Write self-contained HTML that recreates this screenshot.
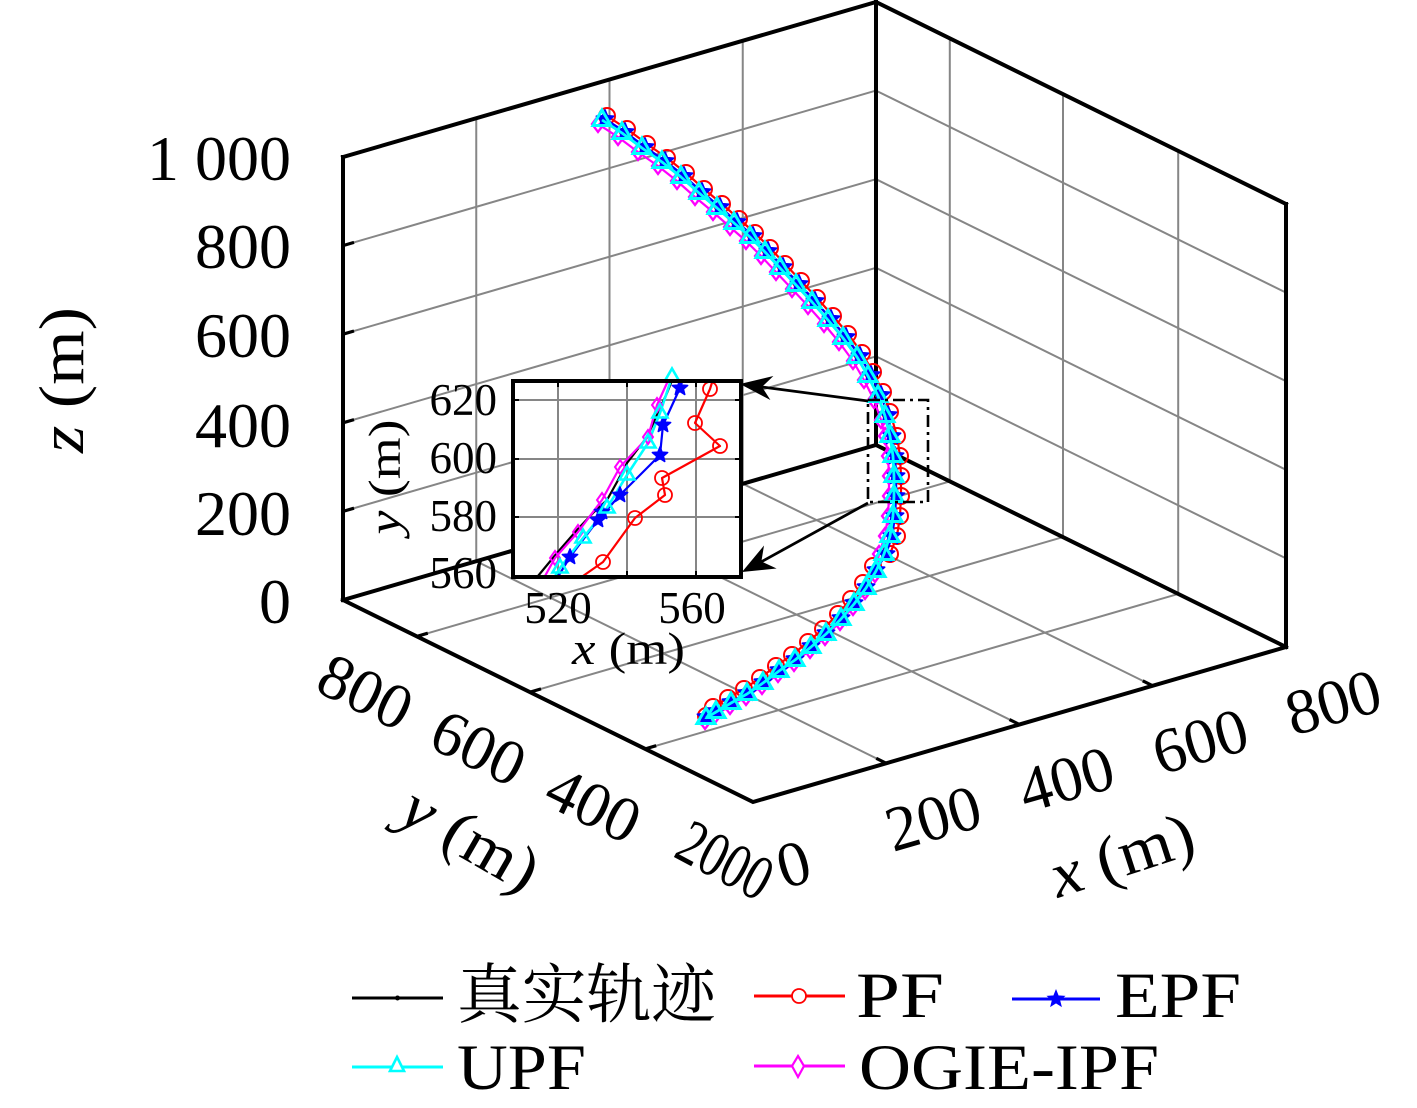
<!DOCTYPE html>
<html><head><meta charset="utf-8"><style>html,body{margin:0;padding:0;background:#fff}svg{display:block}</style></head>
<body>
<svg width="1417" height="1108" viewBox="0 0 1417 1108" xmlns="http://www.w3.org/2000/svg" font-family="'Liberation Serif', serif">
<defs>
  <marker id="mdot" markerUnits="userSpaceOnUse" markerWidth="20" markerHeight="20" refX="10" refY="10" style="overflow:visible">
    <circle cx="10" cy="10" r="2.5" fill="#000"/>
  </marker>
  <marker id="mcir" markerUnits="userSpaceOnUse" markerWidth="20" markerHeight="20" refX="10" refY="10" style="overflow:visible">
    <circle cx="10" cy="10" r="8" fill="none" stroke="#ff0000" stroke-width="2"/>
  </marker>
  <marker id="mstar" markerUnits="userSpaceOnUse" markerWidth="20" markerHeight="20" refX="10" refY="10" style="overflow:visible">
    <polygon points="10,1 12.35,6.76 18.56,7.22 13.8,11.24 15.29,17.28 10,14 4.71,17.28 6.2,11.24 1.44,7.22 7.65,6.76" fill="#0000ff" stroke="#0000ff" stroke-width="1.8" stroke-linejoin="round"/>
  </marker>
  <marker id="mtri" markerUnits="userSpaceOnUse" markerWidth="20" markerHeight="20" refX="10" refY="10" style="overflow:visible">
    <polygon points="10,0 19,15.5 1,15.5" fill="none" stroke="#00ffff" stroke-width="3" stroke-linejoin="miter"/>
  </marker>
  <marker id="mdia" markerUnits="userSpaceOnUse" markerWidth="20" markerHeight="20" refX="10" refY="10" style="overflow:visible">
    <polygon points="10,2 16,10 10,18 4,10" fill="none" stroke="#ff00ff" stroke-width="2.3"/>
  </marker>
  <!-- inset markers -->
  <marker id="icir" markerUnits="userSpaceOnUse" markerWidth="20" markerHeight="20" refX="10" refY="10" style="overflow:visible">
    <circle cx="10" cy="10" r="7" fill="none" stroke="#ff0000" stroke-width="1.8"/>
  </marker>
  <marker id="istar" markerUnits="userSpaceOnUse" markerWidth="20" markerHeight="20" refX="10" refY="10" style="overflow:visible">
    <polygon points="10,2 12.06,7.17 17.61,7.53 13.33,11.08 14.7,16.47 10,13.5 5.3,16.47 6.67,11.08 2.39,7.53 7.94,7.17" fill="#0000ff" stroke="#0000ff" stroke-width="1.6" stroke-linejoin="round"/>
  </marker>
  <marker id="itri" markerUnits="userSpaceOnUse" markerWidth="20" markerHeight="20" refX="10" refY="10" style="overflow:visible">
    <polygon points="10,1.5 17.5,14.5 2.5,14.5" fill="none" stroke="#00ffff" stroke-width="2.6" stroke-linejoin="miter"/>
  </marker>
  <marker id="idia" markerUnits="userSpaceOnUse" markerWidth="20" markerHeight="20" refX="10" refY="10" style="overflow:visible">
    <polygon points="10,3 15,10 10,17 5,10" fill="none" stroke="#ff00ff" stroke-width="2"/>
  </marker>
  <clipPath id="ic"><rect x="513" y="381" width="228" height="196"/></clipPath>
</defs>

<rect x="0" y="0" width="1417" height="1108" fill="#fff"/>

<!-- gridlines -->
<g stroke="#868686" stroke-width="2" fill="none">
  <path d="M343 511.4L876 356.4 M343 422.8L876 267.8 M343 334.2L876 179.2 M343 245.6L876 90.6"/>
  <path d="M876 356.4L1286 558.4 M876 267.8L1286 469.8 M876 179.2L1286 381.2 M876 90.6L1286 292.6"/>
  <path d="M476.25 561.25L476.25 118.25 M609.5 522.5L609.5 79.5 M742.75 483.75L742.75 40.75"/>
  <path d="M949.8 481.4L949.8 38.4 M1063 537.1L1063 94.1 M1178.2 593.9L1178.2 150.9"/>
  <path d="M416.8 636.4L949.8 481.4 M530 692.1L1063 537.1 M645.2 748.9L1178.2 593.9"/>
  <path d="M886.25 763.25L476.25 561.25 M1019.5 724.5L609.5 522.5 M1152.75 685.75L742.75 483.75"/>
</g>

<!-- box edges -->
<g stroke="#000" stroke-width="4" fill="none" stroke-linejoin="miter" stroke-linecap="square">
  <path d="M343 157L343 600 M876 2L876 445 M1286 204L1286 647"/>
  <path d="M343 600L753 802L1286 647"/>
  <path d="M343 600L876 445L1286 647"/>
  <path d="M343 157L876 2L1286 204"/>
</g>
<!-- ticks -->
<g stroke="#000" stroke-width="3.2" fill="none">
  <path d="M343 511.4l11 -3.2 M343 422.8l11 -3.2 M343 334.2l11 -3.2 M343 245.6l11 -3.2"/>
  <path d="M416.8 636.4l11 -3.2 M530 692.1l11 -3.2 M645.2 748.9l11 -3.2"/>
  <path d="M886.25 763.25l-10 -4.9 M1019.5 724.5l-10 -4.9 M1152.75 685.75l-10 -4.9"/>
</g>

<!-- z tick labels -->
<g font-size="64" text-anchor="end" fill="#000">
  <text x="291" y="180">1 000</text>
  <text x="291" y="268">800</text>
  <text x="291" y="357">600</text>
  <text x="291" y="447">400</text>
  <text x="291" y="535">200</text>
  <text x="291" y="623">0</text>
</g>
<!-- y tick labels -->
<g font-size="64" fill="#000">
  <text transform="translate(313,690) rotate(26)">800</text>
  <text transform="translate(426,746) rotate(26)">600</text>
  <text transform="translate(541,803) rotate(26)">400</text>
  <text transform="translate(672,856) rotate(28)" textLength="98" lengthAdjust="spacingAndGlyphs">2000</text>
</g>
<!-- x tick labels -->
<g font-size="64" fill="#000">
  <text transform="translate(784,889) rotate(-16)">0</text>
  <text transform="translate(893,852) rotate(-16)">200</text>
  <text transform="translate(1026,813) rotate(-16)">400</text>
  <text transform="translate(1160,775) rotate(-16)">600</text>
  <text transform="translate(1293,736) rotate(-16)">800</text>
</g>
<!-- axis labels -->
<text font-size="64" text-anchor="middle" transform="translate(83,380) rotate(-90)" textLength="146" lengthAdjust="spacingAndGlyphs"><tspan font-style="italic">z</tspan> (m)</text>
<text font-size="64" transform="translate(396,820) rotate(30)" textLength="148" lengthAdjust="spacingAndGlyphs"><tspan font-style="italic">y</tspan> (m)</text>
<text font-size="64" transform="translate(1058,898) rotate(-18)" textLength="148" lengthAdjust="spacingAndGlyphs"><tspan font-style="italic">x</tspan> (m)</text>

<!-- trajectory -->
<g fill="none" stroke-linejoin="round">
  <polyline stroke="#000" stroke-width="2.2" marker-start="url(#mdot)" marker-mid="url(#mdot)" marker-end="url(#mdot)"
    points="602,120 622,133 642,148 662,162 681,177 699,193 717,208 734,223 750,237 765,252 780,268 796,285 812,302 828,320 843,338 857,357 868,376 878,396 885,416 890,436 893,456 894,476 894,496 893,516 890,536 884,554 876,571 866,588 854,604 841,619 826,634 811,647 795,660 779,671 763,683 747,694 731,703 716,712 706,718"/>
  <polyline stroke="#ff0000" stroke-width="2.2" marker-start="url(#mcir)" marker-mid="url(#mcir)" marker-end="url(#mcir)"
    points="607,116 627,129 647,144 667,158 686,173 704,189 722,204 739,219 755,233 770,248 785,264 801,281 817,298 833,316 848,334 862,353 873,372 883,392 890,412 897,436 900,456 901,476 901,496 900,516 897,536 890,554 873,566 863,583 851,599 838,614 823,629 808,642 792,655 776,666 760,678 744,689 728,698 713,707 706,716"/>
  <polyline stroke="#ff00ff" stroke-width="2.2" marker-start="url(#mdia)" marker-mid="url(#mdia)" marker-end="url(#mdia)"
    points="598,124 618,137 638,152 658,166 677,181 695,197 713,212 730,227 746,241 761,256 776,272 792,289 808,306 824,324 839,342 853,361 864,380 874,400 881,420 885,436 888,456 889,476 889,496 888,516 885,536 879,554 875,574 865,591 853,607 840,622 825,637 810,650 794,663 778,674 762,686 746,697 730,706 715,715 705,721"/>
  <polyline stroke="#0000ff" stroke-width="2.4" marker-start="url(#mstar)" marker-mid="url(#mstar)" marker-end="url(#mstar)"
    points="605,119 625,132 645,147 665,161 684,176 702,192 720,207 737,222 753,236 768,251 783,267 799,284 815,301 831,319 846,337 860,356 871,375 881,395 888,415 892,436 895,456 896,476 896,496 895,516 892,536 886,554 876,570 866,587 854,603 841,618 826,633 811,646 795,659 779,670 763,682 747,693 731,702 716,711 706,717"/>
  <polyline stroke="#00ffff" stroke-width="2.8" marker-start="url(#mtri)" marker-mid="url(#mtri)" marker-end="url(#mtri)"
    points="602,120 622,133 642,148 662,162 681,177 699,193 717,208 734,223 750,237 765,252 780,268 796,285 812,302 828,320 843,338 857,357 868,376 878,396 885,416 890,436 893,456 894,476 894,496 893,516 890,536 884,554 876,571 866,588 854,604 841,619 826,634 811,647 795,660 779,671 763,683 747,694 731,703 716,712 706,718"/>
</g>

<!-- dash-dot zoom rectangle -->
<rect x="868" y="400" width="60" height="102" fill="none" stroke="#000" stroke-width="2.6" stroke-dasharray="12 5 3 5"/>

<!-- arrows -->
<g stroke="#000" stroke-width="2.8" fill="none">
  <path d="M868 401L762 387"/>
  <path d="M868 503L761 562"/>
</g>
<polygon points="740,384 773.4,376 762,386.9 770.4,400" fill="#000"/>
<polygon points="742,572 764,545.5 761.4,561.5 776.6,568.5" fill="#000"/>

<!-- inset -->
<rect x="513" y="381" width="228" height="196" fill="#fff"/>
<g stroke="#868686" stroke-width="2" fill="none">
  <path d="M558 381V577 M627 381V577 M696 381V577 M513 400H741 M513 459H741 M513 517H741"/>
</g>
<g stroke="#000" stroke-width="2" fill="none">
  <path d="M513 400h6 M513 459h6 M513 517h6 M741 400h-6 M741 459h-6 M741 517h-6 M558 577v-6 M627 577v-6 M696 577v-6 M558 381v6 M627 381v6 M696 381v6"/>
</g>
<g fill="none" stroke-linejoin="round" clip-path="url(#ic)">
  <polyline stroke="#000" stroke-width="2.2" points="533,585 538,576 557,553 577,530 593,513 607,500 617,482 627,463 637,450 647,437 657,415 667,393 673,378 676,372"/>
  <polyline stroke="#ff0000" stroke-width="2.2" points="575,590 583,576 603,562 635,518 665,495 662,478 720,446 695,423 710,389 714,376"/>
  <polyline stroke="#ff00ff" stroke-width="2.2" points="540,585 555,558 578,532 602,500 620,467 648,437 657,405 667,383 670,376"/>
  <polyline stroke="#0000ff" stroke-width="2.2" points="553,585 570,557 598,520 620,495 660,455 663,425 680,388 684,376"/>
  <polyline stroke="#00ffff" stroke-width="2.6" points="548,588 560,568 583,538 607,508 627,475 648,443 660,413 672,377 674,372"/>
</g>
<g fill="none" stroke="none">
  <polyline marker-mid="url(#icir)" points="575,590 603,562 635,518 665,495 662,478 720,446 695,423 710,389 714,376"/>
  <polyline marker-mid="url(#idia)" points="540,585 555,558 578,532 602,500 620,467 648,437 657,405 670,376"/>
  <polyline marker-mid="url(#istar)" points="553,585 570,557 598,520 602,512 620,495 660,455 663,425 680,388 684,376"/>
  <polyline marker-mid="url(#itri)" points="548,588 560,568 583,538 607,508 627,475 648,443 660,413 672,377 674,360"/>
</g>
<rect x="513" y="381" width="228" height="196" fill="none" stroke="#000" stroke-width="4"/>
<g font-size="45" fill="#000">
  <text x="497" y="415" text-anchor="end">620</text>
  <text x="497" y="473" text-anchor="end">600</text>
  <text x="497" y="531" text-anchor="end">580</text>
  <text x="497" y="588" text-anchor="end">560</text>
  <text x="558" y="623" text-anchor="middle">520</text>
  <text x="692" y="623" text-anchor="middle">560</text>
  <text x="572" y="664" textLength="113" lengthAdjust="spacingAndGlyphs"><tspan font-style="italic">x</tspan> (m)</text>
  <text transform="translate(400,477) rotate(-90)" text-anchor="middle" textLength="115" lengthAdjust="spacingAndGlyphs"><tspan font-style="italic">y</tspan> (m)</text>
</g>

<!-- legend -->
<g fill="none">
  <path d="M352 998H443" stroke="#000" stroke-width="3"/>
  <circle cx="397.5" cy="998" r="2.5" fill="#000"/>
  <path d="M754 996H845" stroke="#ff0000" stroke-width="3"/>
  <circle cx="799" cy="996" r="7" stroke="#ff0000" stroke-width="1.8" fill="#fff"/>
  <path d="M1012 999H1100" stroke="#0000ff" stroke-width="3"/>
  <polygon transform="translate(1046,989)" points="10,2 12.06,7.17 17.61,7.53 13.33,11.08 14.7,16.47 10,13.5 5.3,16.47 6.67,11.08 2.39,7.53 7.94,7.17" fill="#0000ff" stroke="#0000ff" stroke-width="1.5"/>
  <path d="M352 1067H443" stroke="#00ffff" stroke-width="3"/>
  <polygon points="397,1057 404,1071 390,1071" stroke="#00ffff" stroke-width="2.6" fill="#fff"/>
  <path d="M754 1066H845" stroke="#ff00ff" stroke-width="3"/>
  <polygon points="798,1056 804,1066 798,1077 792,1066" stroke="#ff00ff" stroke-width="2.2" fill="#fff"/>
</g>
<g font-size="65" fill="#000">
  <text x="457" y="1017" font-family="'Liberation Serif', 'Noto Serif CJK SC', 'Noto Sans CJK SC', serif" textLength="259" lengthAdjust="spacingAndGlyphs">真实轨迹</text>
  <text x="856" y="1017" textLength="88" lengthAdjust="spacingAndGlyphs">PF</text>
  <text x="1115" y="1017" textLength="126" lengthAdjust="spacingAndGlyphs">EPF</text>
  <text x="457" y="1089" textLength="129" lengthAdjust="spacingAndGlyphs">UPF</text>
  <text x="859" y="1089" textLength="300" lengthAdjust="spacingAndGlyphs">OGIE-IPF</text>
</g>
</svg>
</body></html>
